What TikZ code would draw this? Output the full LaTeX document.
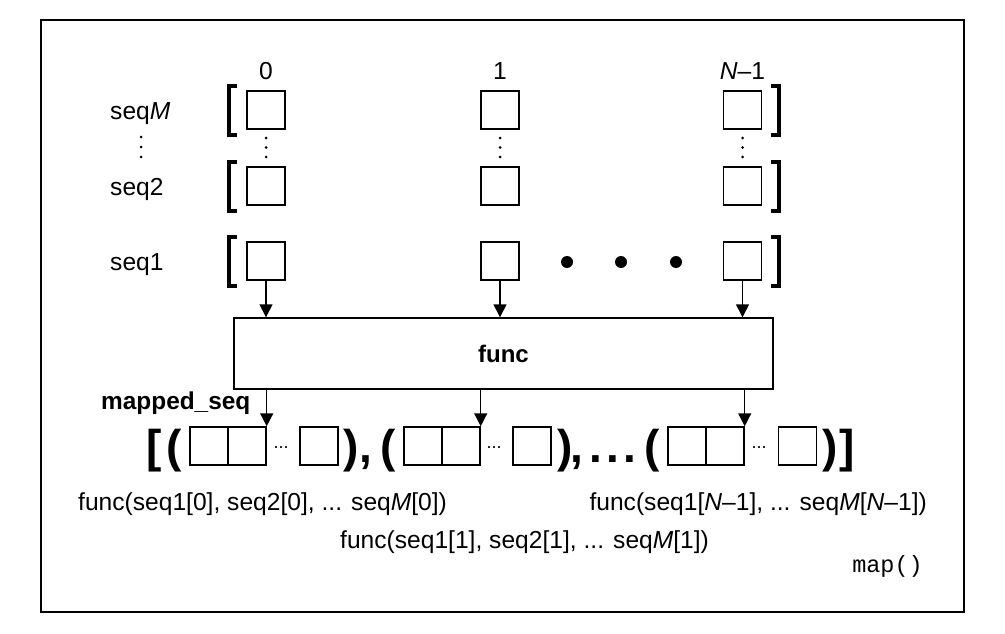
\documentclass[tikz,border=0pt]{standalone}
\usepackage{fontspec}
\setmainfont{Liberation Sans}
\setmonofont{Liberation Mono}
\usetikzlibrary{arrows.meta}
\begin{document}
\begin{tikzpicture}[x=1pt,y=-1pt,
  cell/.style={draw, line width=1.4pt, minimum width=38pt, minimum height=38pt, inner sep=0pt},
  lbl/.style={font=\fontsize{24.6}{28}\selectfont, inner sep=0pt},
  blbl/.style={font=\fontsize{24.4}{28}\selectfont\bfseries, inner sep=0pt},
  big/.style={font=\fontsize{46}{50}\selectfont\bfseries, inner sep=0pt, anchor=base},
  sdots/.style={font=\fontsize{18}{20}\selectfont, inner sep=0pt, anchor=base},
  funcbox/.style={draw, line width=1.4pt, minimum width=539pt, minimum height=71pt, inner sep=0pt, font=\fontsize{24}{28}\selectfont\bfseries},
  arr/.style={line width=1.4pt, -{Triangle[width=13pt,length=13pt]}},
  brk/.style={line width=3.5pt, line cap=butt, line join=miter},
  vdot/.style={fill, circle, inner sep=0pt, minimum size=3pt},
  bigdot/.style={fill, circle, inner sep=0pt, minimum size=12pt}]
\useasboundingbox (0,0) rectangle (1005,634);
\draw[line width=1.5pt] (41,20) rectangle (964,612);

% column headers
\node[lbl, anchor=base] (h0) at (266,80) {0};
\node[lbl, anchor=base] (h1) at (500,80) {1};
\node[lbl, anchor=base] (hN) at (742.5,80) {\textit{N}–1};

% row labels
\node[lbl, anchor=base west] (sM) at (110,119) {seq\textit{M}};
\node[lbl, anchor=base west] (s2) at (110,195) {seq2};
\node[lbl, anchor=base west] (s1) at (110,270) {seq1};
\node[vdot] (ld1) at (141,137) {};
\node[vdot] (ld2) at (141,147) {};
\node[vdot] (ld3) at (141,157) {};

% cells
\node[cell] (aM) at (266,110) {};
\node[cell] (bM) at (500,110) {};
\node[cell] (cM) at (742.5,110) {};
\node[cell] (a2) at (266,186) {};
\node[cell] (b2) at (500,186) {};
\node[cell] (c2) at (742.5,186) {};
\node[cell] (a1) at (266,261) {};
\node[cell] (b1) at (500,261) {};
\node[cell] (c1) at (742.5,261) {};

% vertical dots between rows
\foreach \n/\x in {a/266,b/500,c/742.5}{
  \node[vdot] (\n d1) at (\x,138) {};
  \node[vdot] (\n d2) at (\x,147.5) {};
  \node[vdot] (\n d3) at (\x,157) {};
}

% brackets
\foreach \c in {110,186,261}{
  \draw[brk] (237,\c-24) -- (229,\c-24) -- (229,\c+25) -- (237,\c+25);
  \draw[brk] (771,\c-24) -- (779,\c-24) -- (779,\c+25) -- (771,\c+25);
}

% big dots
\node[bigdot] (g1) at (567,262) {};
\node[bigdot] (g2) at (621,262) {};
\node[bigdot] (g3) at (676,262) {};

% func box
\node[funcbox] (func) at (503.5,353.5) {func};
\draw[arr] (a1.south) -- (a1.south |- func.north);
\draw[arr] (b1.south) -- (b1.south |- func.north);
\draw[arr] (c1.south) -- (c1.south |- func.north);

% mapped_seq
\node[blbl, anchor=base west] (ms) at (101,409) {mapped\_seq};

% result cells
\node[cell] (p1a) at (209,446) {};
\node[cell] (p1b) at (247,446) {};
\node[cell] (p1c) at (319,446) {};
\node[cell] (p2a) at (423,446) {};
\node[cell] (p2b) at (461,446) {};
\node[cell] (p2c) at (532,446) {};
\node[cell] (p3a) at (687,446) {};
\node[cell] (p3b) at (725,446) {};
\node[cell] (p3c) at (797.5,446) {};

\node[sdots] (e1) at (281,448) {...};
\node[sdots] (e2) at (494,448) {...};
\node[sdots] (e3) at (759,448) {...};

\draw[arr] (func.south -| p1b.north east) -- (p1b.north east);
\draw[arr] (func.south -| p2b.north east) -- (p2b.north east);
\draw[arr] (func.south -| p3b.north east) -- (p3b.north east);

% big glyphs
\node[big] (lb) at (154,462) {[};
\node[big] (o1) at (174,462) {(};
\node[big] (k1) at (351,462) {)};
\node[big] (cm1) at (366,462) {,};
\node[big] (o2) at (388,462) {(};
\node[big] (k2) at (565,462) {)};
\node[big, anchor=base west] (cm2) at (570,462) {,\hspace{7pt}.\hspace{4pt}.\hspace{4pt}.};
\node[big] (o3) at (652,462) {(};
\node[big] (k3) at (830,462) {)};
\node[big] (rb) at (847.5,462) {]};

% result labels
\node[lbl, anchor=base west] (f0) at (78,510) {func(seq1[0], seq2[0], ... seq\textit{M}[0])};
\node[lbl, anchor=base west] (f1) at (340,548) {func(seq1[1], seq2[1], ... seq\textit{M}[1])};
\node[lbl, anchor=base east] (fN) at (927,510) {func(seq1[\textit{N}–1], ... seq\textit{M}[\textit{N}–1])};
\node[lbl, anchor=base east, font=\fontsize{23.5}{28}\selectfont\ttfamily] (mp) at (923,572) {map()};
\end{tikzpicture}
\end{document}
